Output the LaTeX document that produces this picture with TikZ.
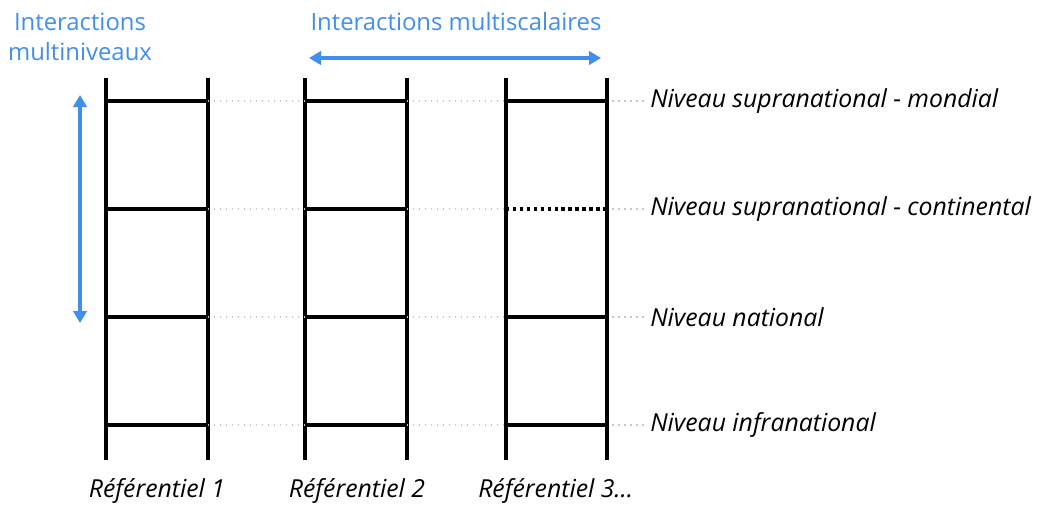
\documentclass[tikz,border=0pt]{standalone}
\usepackage{fontspec}
\setmainfont{Open Sans}
\usepackage{xcolor}
\usepackage{tikz}
\usetikzlibrary{arrows.meta}
\usetikzlibrary{positioning}

\definecolor{bleu}{RGB}{66,142,236}

\tikzset{
  rail/.style={line width=3.2pt},
  rung/.style={line width=2.8pt},
  gap/.style={gray!45, line width=1.1pt, dash pattern=on 1.1pt off 3.4pt},
  niveau/.style={anchor=west, font=\fontsize{18.6}{22}\selectfont\itshape, inner sep=0pt},
  referentiel/.style={font=\fontsize{18.6}{22}\selectfont\itshape},
  titre/.style={text=bleu, font=\fontsize{17.9}{22}\selectfont, align=center},
  fleche/.style={bleu, line width=2.4pt, {Triangle[length=9pt,width=10pt]}-{Triangle[length=9pt,width=10pt]}}
}

\begin{document}
\begin{tikzpicture}[x=0.75pt,y=-0.75pt]
\useasboundingbox (0,0) rectangle (1037,504);

% labels of the levels
\node[niveau] at (650,101) (lvl1) {Niveau supranational - mondial};
\node[niveau] at (650,209) (lvl2) {Niveau supranational - continental};
\node[niveau] at (650,317) (lvl3) {Niveau national};
\node[niveau] at (650,425) (lvl4) {Niveau infranational};

% ladders
\foreach \i/\xa/\xb in {1/106/208,2/305/407,3/506/607} {
  \coordinate (a\i t) at (\xa,78);
  \coordinate (a\i b) at (\xa,460);
  \coordinate (b\i t) at (\xb,78);
  \coordinate (b\i b) at (\xb,460);
  \foreach \j/\y in {1/101,2/209,3/317,4/425} {
    \coordinate (a\i\j) at (\xa,\y);
    \coordinate (b\i\j) at (\xb,\y);
  }
  \draw[rail] (a\i t) -- (a\i b);
  \draw[rail] (b\i t) -- (b\i b);
}

\foreach \j in {1,...,4} {
  \draw[gap] (b1\j) -- (a2\j);
  \draw[gap] (b2\j) -- (a3\j);
  \draw[gap] ([xshift=4pt]b3\j) -- ([xshift=-4pt]lvl\j.west);
  \draw[rung] (a1\j) -- (b1\j);
  \draw[rung] (a2\j) -- (b2\j);
}
\draw[rung] (a31) -- (b31);
\draw[rung, dash pattern=on 2.6pt off 2.6pt] (a32) -- (b32);
\draw[rung] (a33) -- (b33);
\draw[rung] (a34) -- (b34);

% names of the ladders
\node[referentiel] at (157,491) (ref1) {Référentiel 1};
\node[referentiel] at (357,491) (ref2) {Référentiel 2};
\node[referentiel, anchor=west, inner sep=0pt] at (478,491) (ref3) {Référentiel 3...};

% interactions
\node[titre] at (80,37) (multiniv) {Interactions\\multiniveaux};
\node[titre] at (456,22) (multiscal) {Interactions multiscalaires};
\coordinate (haut) at (80,95);
\coordinate (bas) at (80,323);
\coordinate (gauche) at (309,58);
\coordinate (droite) at (601,58);
\draw[fleche] (haut) -- (bas);
\draw[fleche] (gauche) -- (droite);
\end{tikzpicture}
\end{document}
